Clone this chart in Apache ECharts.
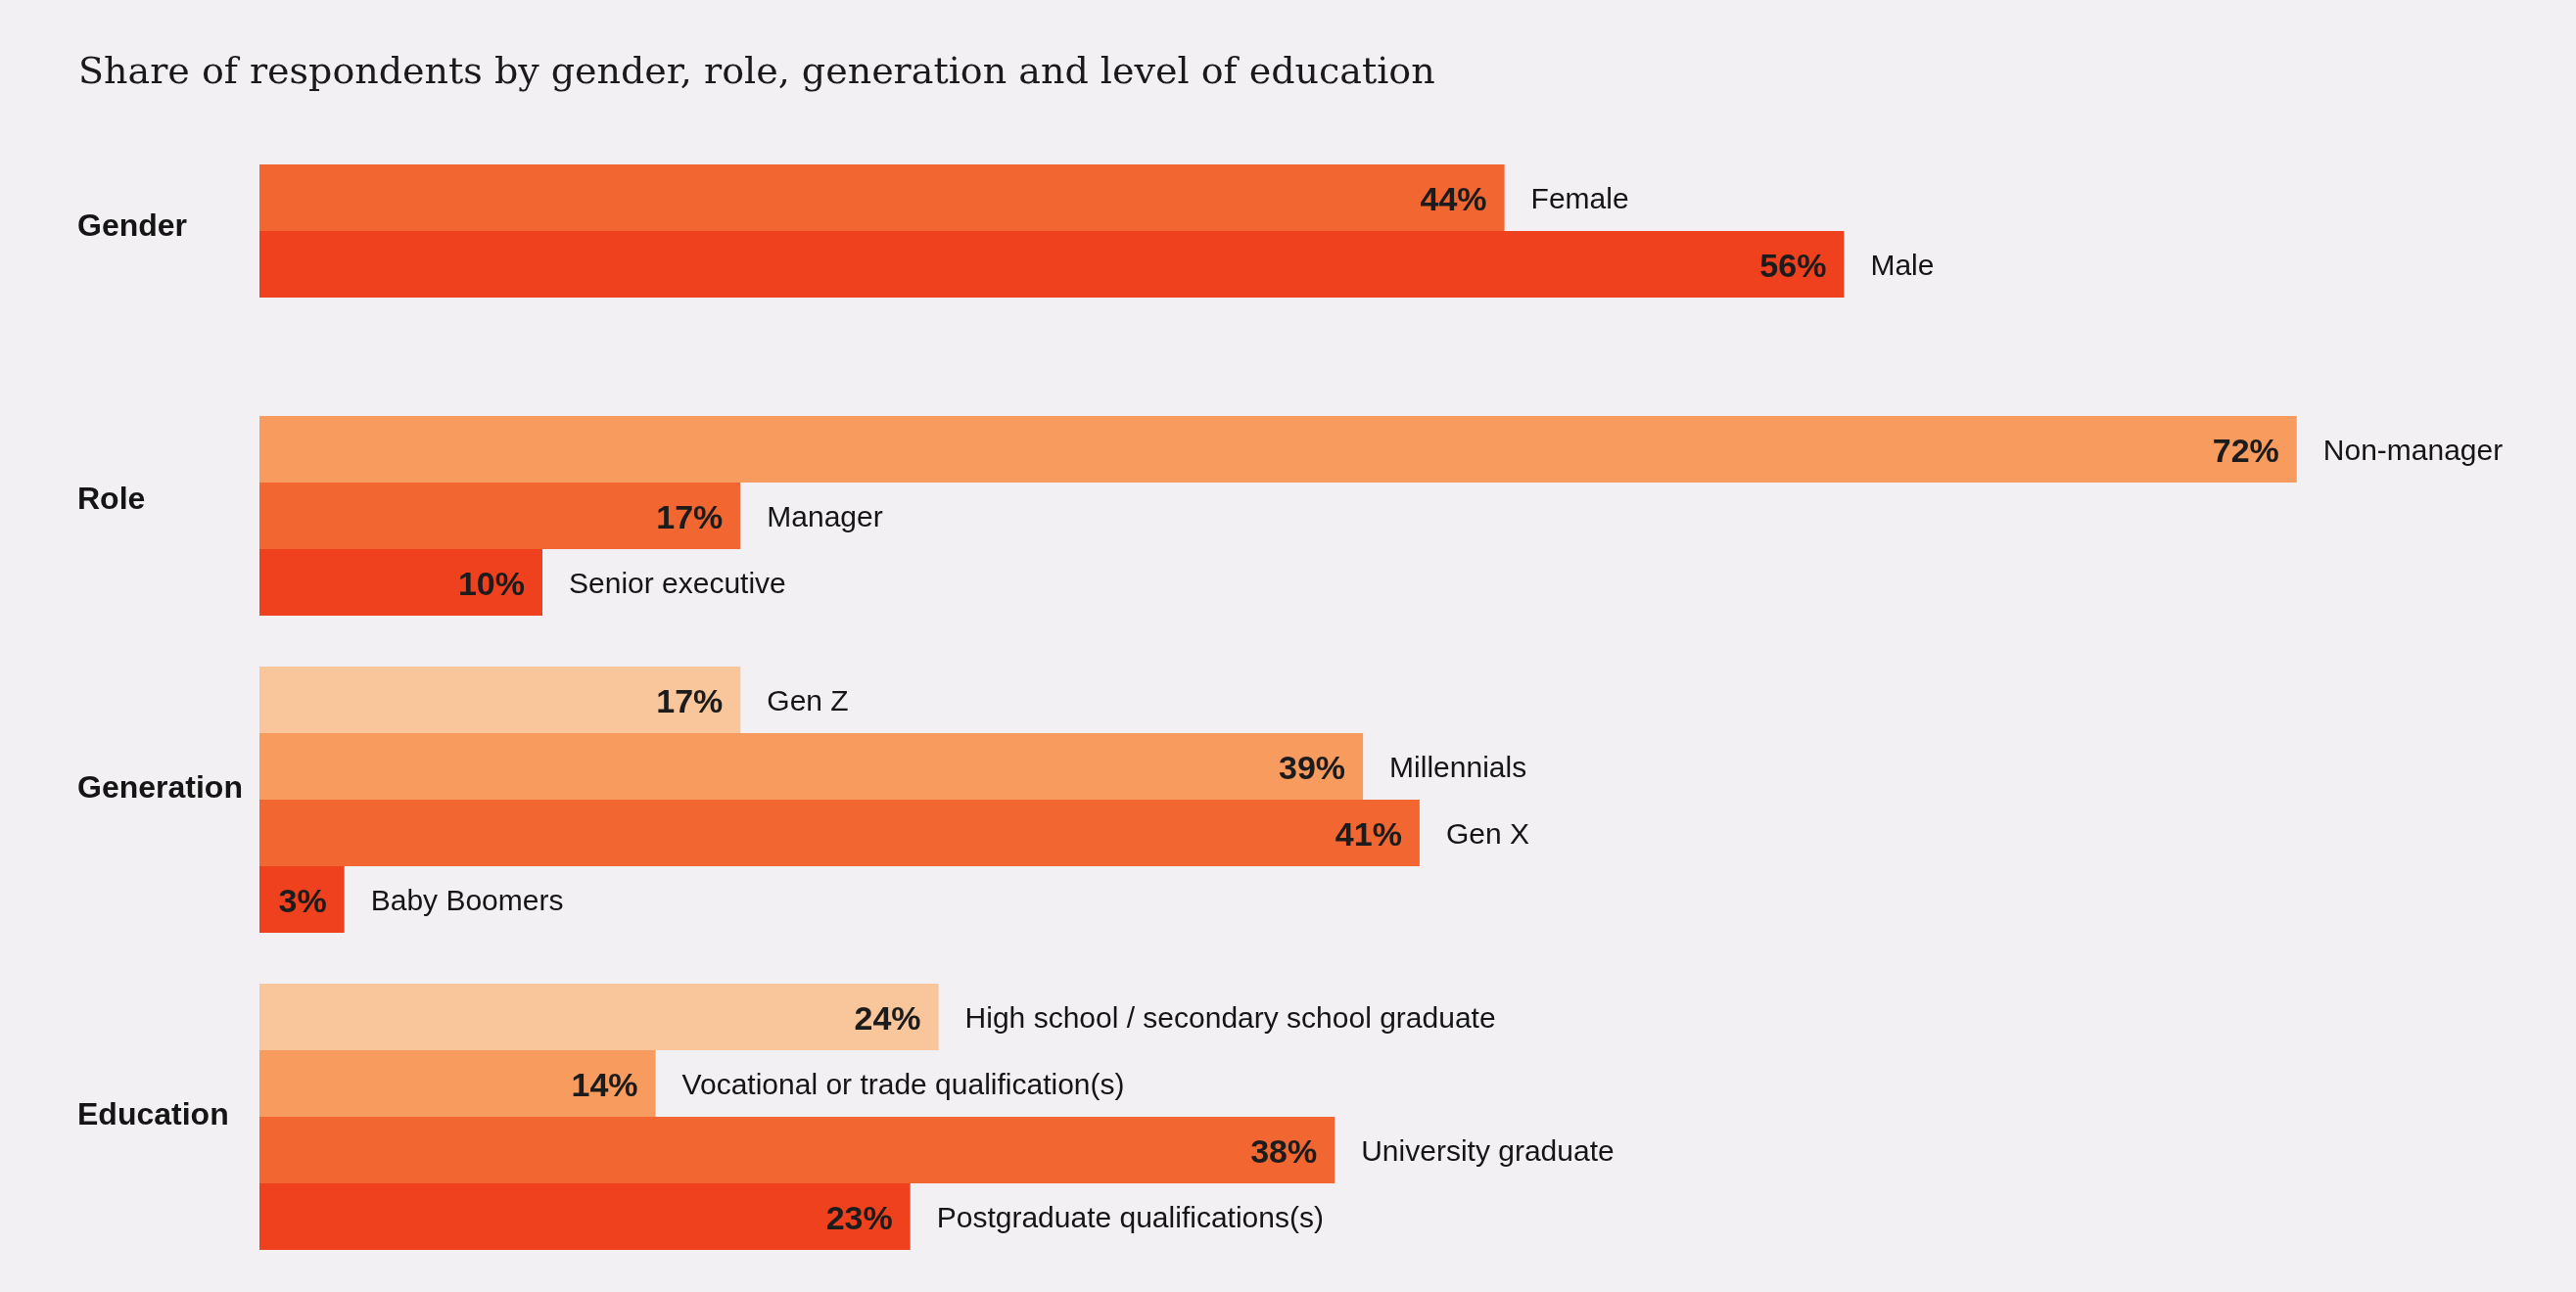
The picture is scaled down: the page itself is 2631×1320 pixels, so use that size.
<!DOCTYPE html>
<html>
<head>
<meta charset="utf-8">
<script src="https://cdn.jsdelivr.net/npm/echarts@6/dist/echarts.min.js"></script>
<style>
  html, body { margin: 0; padding: 0; background: #f2f0f3; }
  #main { width: 2631px; height: 1320px; }
</style>
</head>
<body>
<div id="main"></div>
<script>
// data
const groupNames = ['Gender', 'Role', 'Generation', 'Education']
const genderCategories = ['Female', 'Male']
const genderValues = [44, 56]
const roleCategories = ['Non-manager', 'Manager', 'Senior executive']
const roleValues = [72, 17, 10]
const generationCategories = ['Gen Z', 'Millennials', 'Gen X', 'Baby Boomers']
const generationValues = [17, 39, 41, 3]
const educationCategories = [
  'High school / secondary school graduate',
  'Vocational or trade qualification(s)',
  'University graduate',
  'Postgraduate qualifications(s)'
]
const educationValues = [24, 14, 38, 23]

const groups = [
  { cats: genderCategories, vals: genderValues },
  { cats: roleCategories, vals: roleValues },
  { cats: generationCategories, vals: generationValues },
  { cats: educationCategories, vals: educationValues }
]

// layout / style
const shades = ['#f9c59b', '#f79b5f', '#f26631', '#f0411f'] // lightest -> darkest, last row darkest
const gridTops = [168, 425, 681, 1005]
const groupLabelY = [232, 511, 806, 1140]
const rowH = 68
const sans = '"Liberation Sans", Arial, Helvetica, sans-serif'

const chart = echarts.init(document.getElementById('main'))

const grid = []
const xAxis = []
const yAxis = []
const series = []
const graphic = []

groups.forEach((g, i) => {
  const n = g.cats.length
  grid.push({ left: 265, width: 2312, top: gridTops[i], height: n * rowH })
  xAxis.push({ gridIndex: i, type: 'value', min: 0, max: 80, show: false })
  yAxis.push({ gridIndex: i, type: 'category', inverse: true, data: g.cats, show: false })
  // bars with value inside
  series.push({
    type: 'bar',
    xAxisIndex: i,
    yAxisIndex: i,
    barWidth: '100%',
    barGap: '-100%',
    barCategoryGap: 0,
    silent: true,
    data: g.vals.map((v, k) => ({ value: v, itemStyle: { color: shades[4 - n + k] } })),
    label: {
      show: true,
      position: 'insideRight',
      distance: 18,
      offset: [0, 4],
      formatter: p => p.value + '%',
      fontFamily: sans,
      fontSize: 34,
      fontWeight: 'bold',
      color: '#1c1c1c'
    }
  })
  // transparent overlay carrying category name outside
  series.push({
    type: 'bar',
    xAxisIndex: i,
    yAxisIndex: i,
    barWidth: '100%',
    barGap: '-100%',
    barCategoryGap: 0,
    silent: true,
    itemStyle: { color: 'rgba(0,0,0,0)' },
    data: g.vals,
    label: {
      show: true,
      position: 'right',
      distance: 27,
      offset: [0, 3],
      formatter: p => p.name,
      fontFamily: sans,
      fontSize: 30,
      color: '#151515'
    }
  })
  graphic.push({
    type: 'text',
    x: 79,
    y: groupLabelY[i],
    style: {
      text: groupNames[i],
      font: 'bold 32px ' + sans,
      fill: '#151515',
      verticalAlign: 'middle'
    }
  })
})

chart.setOption({
  backgroundColor: '#f2f0f3',
  animation: false,
  title: {
    text: 'Share of respondents by gender, role, generation and level of education',
    left: 75,
    top: 51,
    textStyle: {
      fontFamily: '"DejaVu Serif", "Liberation Serif", serif',
      fontWeight: 'normal',
      fontSize: 38,
      color: '#1a1a1a'
    }
  },
  grid: grid,
  xAxis: xAxis,
  yAxis: yAxis,
  series: series,
  graphic: graphic
})
window.onresize = chart.resize
</script>
</body>
</html>
